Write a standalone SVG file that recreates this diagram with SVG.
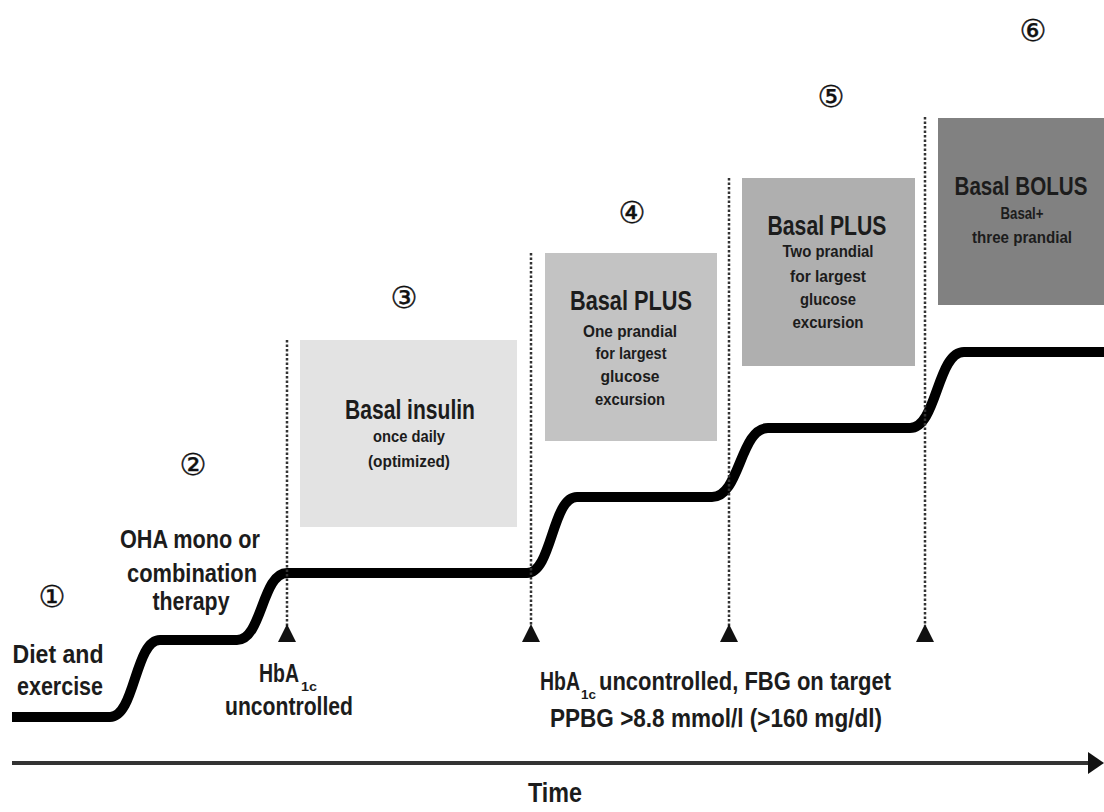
<svg xmlns="http://www.w3.org/2000/svg" width="1104" height="812" viewBox="0 0 1104 812">
<style>
.t{font-family:"Liberation Sans Narrow","Liberation Sans",Arial,sans-serif;font-weight:bold;fill:#1c1c1c;text-anchor:middle}
.big{font-size:27px}
.lab{font-size:25px}
.sm{font-size:16px}
.sub{font-size:13px}
.num{font-family:"DejaVu Sans",sans-serif;font-size:30px;fill:#111;stroke:#111;stroke-width:0.4;text-anchor:middle}
.dot{stroke:#333;stroke-width:2.5;stroke-dasharray:2.5,2;fill:none}
.tri{fill:#111}
</style>
<rect width="1104" height="812" fill="#fff"/>

<g id="step1">
<text class="num" x="52" y="607">①</text>
<text class="t lab" x="58" y="663" textLength="91" lengthAdjust="spacingAndGlyphs">Diet and</text>
<text class="t lab" x="60" y="695" textLength="86" lengthAdjust="spacingAndGlyphs">exercise</text>
</g>
<g id="step2">
<text class="num" x="193" y="475">②</text>
<text class="t lab" x="190" y="548" textLength="140" lengthAdjust="spacingAndGlyphs">OHA mono or</text>
<text class="t lab" x="192" y="582" textLength="130" lengthAdjust="spacingAndGlyphs">combination</text>
<text class="t lab" x="191" y="610" textLength="77" lengthAdjust="spacingAndGlyphs">therapy</text>
</g>
<g id="step3">
<text class="num" x="404" y="308">③</text>
<rect x="300" y="340" width="217" height="187" fill="#e3e3e3"/>
<text class="t big" x="410" y="419" textLength="130" lengthAdjust="spacingAndGlyphs">Basal insulin</text>
<text class="t sm" x="409" y="442" textLength="72" lengthAdjust="spacingAndGlyphs">once daily</text>
<text class="t sm" x="409" y="467" textLength="82" lengthAdjust="spacingAndGlyphs">(optimized)</text>
</g>
<g id="step4">
<text class="num" x="632" y="223">④</text>
<rect x="545" y="253" width="172" height="188" fill="#c3c3c3"/>
<text class="t big" x="631" y="310" textLength="122" lengthAdjust="spacingAndGlyphs">Basal PLUS</text>
<text class="t sm" x="630" y="337" textLength="94" lengthAdjust="spacingAndGlyphs">One prandial</text>
<text class="t sm" x="631" y="359" textLength="71" lengthAdjust="spacingAndGlyphs">for largest</text>
<text class="t sm" x="630" y="382" textLength="59" lengthAdjust="spacingAndGlyphs">glucose</text>
<text class="t sm" x="630" y="405" textLength="70" lengthAdjust="spacingAndGlyphs">excursion</text>
</g>
<g id="step5">
<text class="num" x="831" y="107">⑤</text>
<rect x="742" y="178" width="173" height="188" fill="#afafaf"/>
<text class="t big" x="827" y="235" textLength="119" lengthAdjust="spacingAndGlyphs">Basal PLUS</text>
<text class="t sm" x="828" y="257" textLength="91" lengthAdjust="spacingAndGlyphs">Two prandial</text>
<text class="t sm" x="828" y="282" textLength="76" lengthAdjust="spacingAndGlyphs">for largest</text>
<text class="t sm" x="828" y="305" textLength="56" lengthAdjust="spacingAndGlyphs">glucose</text>
<text class="t sm" x="828" y="328" textLength="71" lengthAdjust="spacingAndGlyphs">excursion</text>
</g>
<g id="step6">
<text class="num" x="1033" y="41">⑥</text>
<rect x="938" y="118" width="166" height="187" fill="#818181"/>
<text class="t" style="font-size:25px" x="1021" y="195" textLength="133" lengthAdjust="spacingAndGlyphs">Basal BOLUS</text>
<text class="t sm" x="1022" y="219" textLength="43" lengthAdjust="spacingAndGlyphs">Basal+</text>
<text class="t sm" x="1022" y="243" textLength="100" lengthAdjust="spacingAndGlyphs">three prandial</text>
</g>

<g id="connectors">
<path d="M12,717 H110 C135,717 135,640 160,640 H237 C262,640 262,573 287,573 H527 C552,573 552,497 577,497 H712 C740,497 740,428 768,428 H910 C937,428 937,352 964,352 H1104" fill="none" stroke="#000" stroke-width="10"/>
<line class="dot" x1="287" y1="340" x2="287" y2="626"/>
<line class="dot" x1="531" y1="253" x2="531" y2="626"/>
<line class="dot" x1="729" y1="178" x2="729" y2="626"/>
<line class="dot" x1="925" y1="117" x2="925" y2="626"/>
<polygon class="tri" points="287,624 296,642 278,642"/>
<polygon class="tri" points="531,624 540,642 522,642"/>
<polygon class="tri" points="729,624 738,642 720,642"/>
<polygon class="tri" points="925,624 934,642 916,642"/>
<line x1="12" y1="763" x2="1092" y2="763" stroke="#333" stroke-width="4"/>
<polygon points="1088,752 1104,763 1088,774" fill="#111"/>
</g>

<g id="labels">
<text class="t lab" style="text-anchor:start" x="259" y="682"><tspan textLength="40" lengthAdjust="spacingAndGlyphs">HbA</tspan><tspan class="sub" x="301" y="691" textLength="16" lengthAdjust="spacingAndGlyphs">1c</tspan></text>
<text class="t lab" x="289" y="715" textLength="128" lengthAdjust="spacingAndGlyphs">uncontrolled</text>
<text class="t lab" style="text-anchor:start" x="540" y="690"><tspan textLength="40" lengthAdjust="spacingAndGlyphs">HbA</tspan><tspan class="sub" x="581" y="699" textLength="15" lengthAdjust="spacingAndGlyphs">1c</tspan><tspan x="599" y="690" textLength="292" lengthAdjust="spacingAndGlyphs">uncontrolled, FBG on target</tspan></text>
<text class="t lab" x="716" y="727" textLength="332" lengthAdjust="spacingAndGlyphs">PPBG &gt;8.8 mmol/l (&gt;160 mg/dl)</text>
<text class="t" style="font-size:28px" x="555" y="802" textLength="54" lengthAdjust="spacingAndGlyphs">Time</text>
</g>
</svg>
